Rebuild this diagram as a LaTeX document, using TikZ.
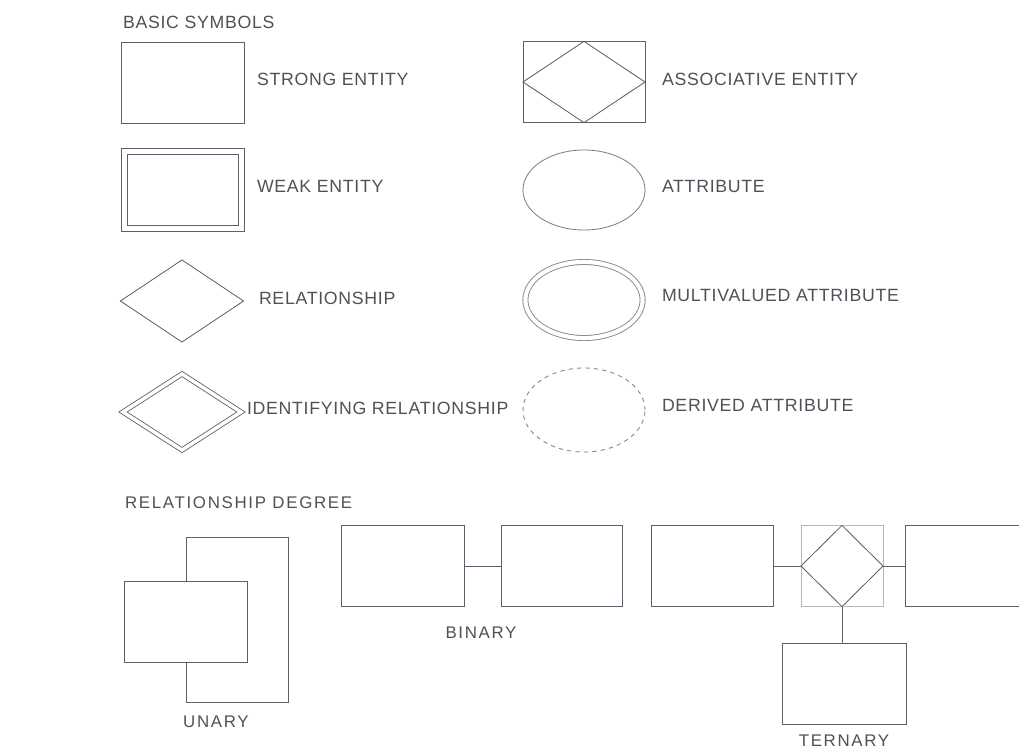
\documentclass[tikz,border=0pt]{standalone}
\usepackage{fontspec}
\setmainfont{Liberation Sans}[LetterSpace=4]
\newfontfamily\degreefont{Liberation Sans}[LetterSpace=10]
\usetikzlibrary{shapes.geometric, positioning, calc}
\definecolor{ink}{RGB}{95,95,105}
\definecolor{label}{RGB}{80,80,88}

\begin{document}
\begin{tikzpicture}[x=0.025cm, y=-0.025cm,
    every node/.style={inner sep=0pt, outer sep=0pt},
    entity/.style={rectangle, draw=ink, line width=0.6pt,
                   minimum width=3.08cm, minimum height=2.03cm},
    weak/.style={entity, double, double distance=3.5pt,
                 minimum width=2.93cm, minimum height=1.93cm},
    relation/.style={diamond, draw=ink, line width=0.6pt,
                     minimum width=3.08cm, minimum height=2.05cm},
    identrel/.style={relation, double, double distance=2.5pt,
                     minimum width=2.95cm, minimum height=1.9cm},
    attrib/.style={ellipse, draw=ink!80, line width=0.6pt,
                   minimum width=3.05cm, minimum height=2cm},
    multival/.style={attrib, double, double distance=3pt,
                     minimum width=2.93cm, minimum height=1.9cm},
    derived/.style={attrib, dashed},
    caption/.style={anchor=west, text=label, font=\fontsize{12.6}{14}\selectfont},
    heading/.style={anchor=west, text=label, font=\fontsize{12.6}{14}\selectfont},
    degree/.style={text=label, font=\fontsize{12}{14}\selectfont\degreefont},
    link/.style={draw=ink, line width=0.6pt},
]
\clip (0,0) rectangle (1019,751);

% ==========================================================
% Basic symbols
% ==========================================================
\node[heading] (basic) at (123, 22) {BASIC SYMBOLS};

\node[entity] (strong) at (183, 83) {};
\node[caption] (strongtxt) at (257, 79) {STRONG ENTITY};

\node[weak] (weakent) at (183, 190) {};
\node[caption] (weaktxt) at (257, 186) {WEAK ENTITY};

\node[relation] (rel) at (182, 301) {};
\node[caption] (reltxt) at (259, 298) {RELATIONSHIP};

\node[identrel] (idrel) at (182, 412) {};
\node[caption] (idreltxt) at (247, 408) {IDENTIFYING RELATIONSHIP};

% right column
\node[entity, minimum width=3.05cm] (assoc) at (584, 82) {};
\draw[link] (assoc.west) -- (assoc.north) -- (assoc.east)
    -- (assoc.south) -- cycle;
\node[caption] (assoctxt) at (662, 79) {ASSOCIATIVE ENTITY};

\node[attrib] (attr) at (584, 190) {};
\node[caption] (attrtxt) at (662, 186) {ATTRIBUTE};

\node[multival] (multi) at (584, 300) {};
\node[caption] (multitxt) at (662, 295) {MULTIVALUED ATTRIBUTE};

\node[derived, minimum height=2.1cm] (deriv) at (584, 410) {};
\node[caption] (derivtxt) at (662, 405) {DERIVED ATTRIBUTE};

% ==========================================================
% Relationship degree
% ==========================================================
\node[degree, anchor=west] (degtitle) at (125, 503) {RELATIONSHIP DEGREE};

% -------- unary -----------
\node[entity] (unary) at (186, 622) {};
\coordinate (uloopA) at (288, 537);
\coordinate (uloopB) at (288, 702);
\draw[link] (unary.north) |- (uloopA) -- (uloopB) -| (unary.south);
\node[degree] (unarytxt) at (216, 722) {UNARY};

% -------- binary -----------
\node[entity] (binA) at (403, 566) {};
\node[entity, minimum width=3.03cm] (binB) at (562, 566) {};
\draw[link] (binA.east) -- (binB.west);
\node[degree] (binarytxt) at (481, 633) {BINARY};

% -------- ternary -----------
\node[entity, minimum width=3.05cm] (terA) at (712, 566) {};
\node[rectangle, draw=ink!45, line width=0.5pt,
      minimum width=2.05cm, minimum height=2.03cm] (terbox) at (842, 566) {};
\draw[link] (terbox.west) -- (terbox.north) -- (terbox.east)
    -- (terbox.south) -- cycle;
\node[entity, minimum width=3.05cm] (terB) at (966, 566) {};
\node[entity] (terC) at (844.5, 684) {};
\draw[link] (terA.east) -- (terbox.west);
\draw[link] (terbox.east) -- (terB.west);
\draw[link] (terbox.south) -- (terbox.south |- terC.north);
\node[degree] (ternarytxt) at (844, 741) {TERNARY};

\end{tikzpicture}
\end{document}
